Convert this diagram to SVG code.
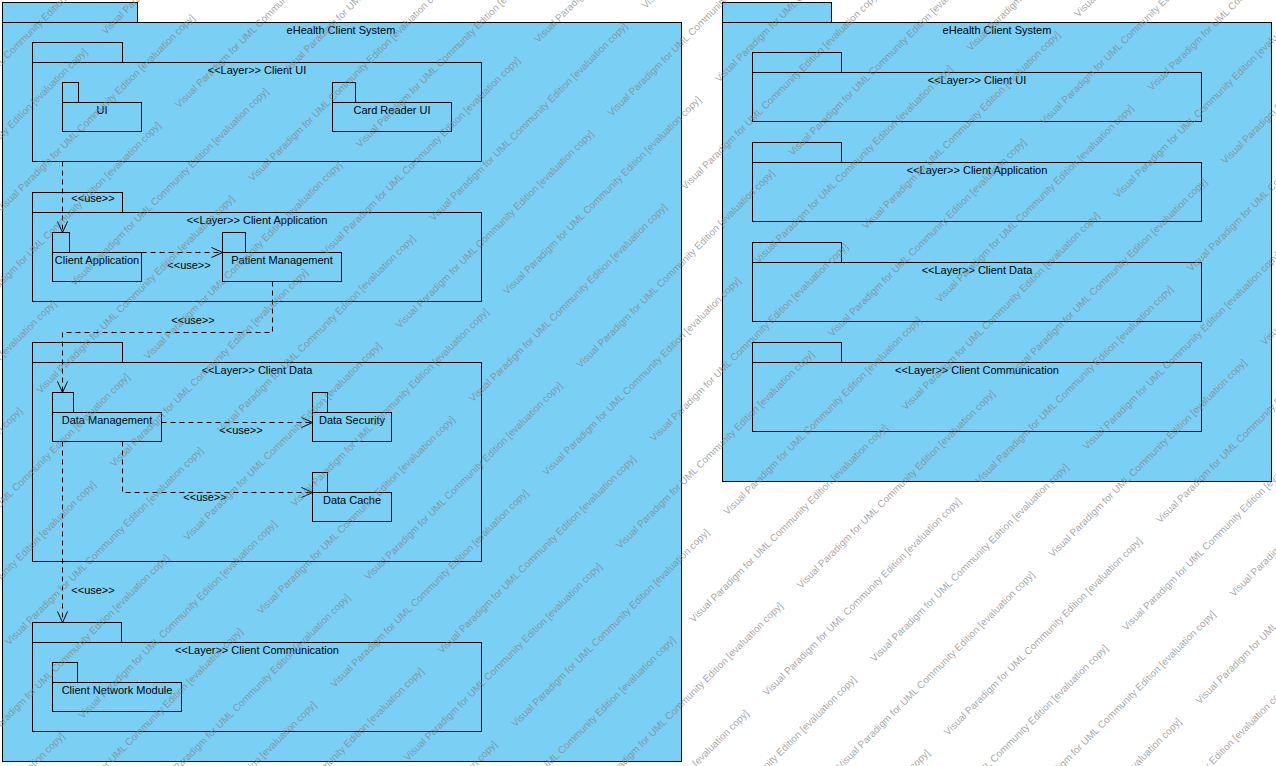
<svg xmlns="http://www.w3.org/2000/svg" width="1276" height="766" viewBox="0 0 1276 766">
<style>
.pkg{fill:#7ACFF5;stroke:#000;stroke-width:1}
.t{font-family:"Liberation Sans",Arial,sans-serif;font-size:11px;fill:#000;text-anchor:middle}
.lbl{font-family:"Liberation Sans",Arial,sans-serif;font-size:11px;fill:#000;text-anchor:middle}
.dep{fill:none;stroke:#000;stroke-width:1;stroke-dasharray:5,4;marker-end:url(#open)}
.wm{font-family:"Liberation Sans",Arial,sans-serif;font-size:10px;fill:#808080;fill-opacity:0.7}
</style>
<defs>
<marker id="open" viewBox="-12 -6 13 12" refX="0" refY="0" markerWidth="13" markerHeight="12" orient="auto" markerUnits="userSpaceOnUse">
<path d="M-11,-5 L0,0 L-11,5" fill="none" stroke="#000" stroke-width="1"/>
</marker>
</defs>
<rect width="1276" height="766" fill="#fff"/>

<g id="system-left">
<rect class="pkg" x="2.5" y="2.5" width="135" height="20"/>
<rect class="pkg" x="2.5" y="22.5" width="679" height="739"/>
<text class="t" x="341" y="34">eHealth Client System</text>
</g>

<g id="layer-client-ui">
<rect class="pkg" x="32.5" y="42.5" width="90" height="20"/>
<rect class="pkg" x="32.5" y="62.5" width="449" height="99"/>
<text class="t" x="257" y="74">&lt;&lt;Layer&gt;&gt; Client UI</text>
</g>
<g id="pkg-ui">
<rect class="pkg" x="62.5" y="82.5" width="16" height="20"/>
<rect class="pkg" x="62.5" y="102.5" width="79" height="29"/>
<text class="t" x="102" y="114">UI</text>
</g>
<g id="pkg-card-reader-ui">
<rect class="pkg" x="332.5" y="82.5" width="23" height="20"/>
<rect class="pkg" x="332.5" y="102.5" width="119" height="29"/>
<text class="t" x="392" y="114">Card Reader UI</text>
</g>

<g id="layer-client-application">
<rect class="pkg" x="32.5" y="192.5" width="90" height="20"/>
<rect class="pkg" x="32.5" y="212.5" width="449" height="89"/>
<text class="t" x="257" y="224">&lt;&lt;Layer&gt;&gt; Client Application</text>
</g>
<g id="pkg-client-application">
<rect class="pkg" x="52.5" y="232.5" width="17" height="20"/>
<rect class="pkg" x="52.5" y="252.5" width="89" height="29"/>
<text class="t" x="97" y="264">Client Application</text>
</g>
<g id="pkg-patient-management">
<rect class="pkg" x="222.5" y="232.5" width="23" height="20"/>
<rect class="pkg" x="222.5" y="252.5" width="119" height="29"/>
<text class="t" x="282" y="264">Patient Management</text>
</g>

<g id="layer-client-data">
<rect class="pkg" x="32.5" y="342.5" width="90" height="20"/>
<rect class="pkg" x="32.5" y="362.5" width="449" height="199"/>
<text class="t" x="257" y="374">&lt;&lt;Layer&gt;&gt; Client Data</text>
</g>
<g id="pkg-data-management">
<rect class="pkg" x="52.5" y="392.5" width="21" height="20"/>
<rect class="pkg" x="52.5" y="412.5" width="109" height="29"/>
<text class="t" x="107" y="424">Data Management</text>
</g>
<g id="pkg-data-security">
<rect class="pkg" x="312.5" y="392.5" width="15" height="20"/>
<rect class="pkg" x="312.5" y="412.5" width="79" height="29"/>
<text class="t" x="352" y="424">Data Security</text>
</g>
<g id="pkg-data-cache">
<rect class="pkg" x="312.5" y="472.5" width="15" height="20"/>
<rect class="pkg" x="312.5" y="492.5" width="79" height="29"/>
<text class="t" x="352" y="504">Data Cache</text>
</g>

<g id="layer-client-communication">
<rect class="pkg" x="32.5" y="622.5" width="89" height="20"/>
<rect class="pkg" x="32.5" y="642.5" width="449" height="89"/>
<text class="t" x="257" y="654">&lt;&lt;Layer&gt;&gt; Client Communication</text>
</g>
<g id="pkg-client-network-module">
<rect class="pkg" x="52.5" y="662.5" width="25" height="20"/>
<rect class="pkg" x="52.5" y="682.5" width="129" height="29"/>
<text class="t" x="117" y="694">Client Network Module</text>
</g>

<g id="connectors">
<path class="dep" d="M62.5,161.5 V232.5"/>
<text class="lbl" x="93" y="202">&lt;&lt;use&gt;&gt;</text>
<path class="dep" d="M141.5,252.5 H222.5"/>
<text class="lbl" x="189" y="269">&lt;&lt;use&gt;&gt;</text>
<path class="dep" d="M272.5,281.5 V332.5 H62.5 V392.5"/>
<text class="lbl" x="193" y="324">&lt;&lt;use&gt;&gt;</text>
<path class="dep" d="M161.5,422.5 H312.5"/>
<text class="lbl" x="241" y="434">&lt;&lt;use&gt;&gt;</text>
<path class="dep" d="M122.5,441.5 V492.5 H312.5"/>
<text class="lbl" x="205" y="501">&lt;&lt;use&gt;&gt;</text>
<path class="dep" d="M62.5,441.5 V622.5"/>
<text class="lbl" x="93" y="594">&lt;&lt;use&gt;&gt;</text>
</g>

<g id="system-right">
<rect class="pkg" x="722.5" y="2.5" width="109" height="20"/>
<rect class="pkg" x="722.5" y="22.5" width="549" height="459"/>
<text class="t" x="997" y="34">eHealth Client System</text>
</g>
<g id="r-layer-client-ui">
<rect class="pkg" x="752.5" y="52.5" width="89" height="20"/>
<rect class="pkg" x="752.5" y="72.5" width="449" height="49"/>
<text class="t" x="977" y="84">&lt;&lt;Layer&gt;&gt; Client UI</text>
</g>
<g id="r-layer-client-application">
<rect class="pkg" x="752.5" y="142.5" width="89" height="20"/>
<rect class="pkg" x="752.5" y="162.5" width="449" height="59"/>
<text class="t" x="977" y="174">&lt;&lt;Layer&gt;&gt; Client Application</text>
</g>
<g id="r-layer-client-data">
<rect class="pkg" x="752.5" y="242.5" width="89" height="20"/>
<rect class="pkg" x="752.5" y="262.5" width="449" height="59"/>
<text class="t" x="977" y="274">&lt;&lt;Layer&gt;&gt; Client Data</text>
</g>
<g id="r-layer-client-communication">
<rect class="pkg" x="752.5" y="342.5" width="89" height="20"/>
<rect class="pkg" x="752.5" y="362.5" width="449" height="69"/>
<text class="t" x="977" y="374">&lt;&lt;Layer&gt;&gt; Client Communication</text>
</g>

<g id="watermark" class="wm" transform="rotate(-45)">
<text x="-150" y="47.4">Visual Paradigm for UML Community Edition [evaluation copy]</text>
<text x="-250" y="99.4">Visual Paradigm for UML Community Edition [evaluation copy]</text>
<text x="50" y="99.4">Visual Paradigm for UML Community Edition [evaluation copy]</text>
<text x="-150" y="151.3">Visual Paradigm for UML Community Edition [evaluation copy]</text>
<text x="150" y="151.3">Visual Paradigm for UML Community Edition [evaluation copy]</text>
<text x="-250" y="203.3">Visual Paradigm for UML Community Edition [evaluation copy]</text>
<text x="50" y="203.3">Visual Paradigm for UML Community Edition [evaluation copy]</text>
<text x="-450" y="255.3">Visual Paradigm for UML Community Edition [evaluation copy]</text>
<text x="-150" y="255.3">Visual Paradigm for UML Community Edition [evaluation copy]</text>
<text x="150" y="255.3">Visual Paradigm for UML Community Edition [evaluation copy]</text>
<text x="-550" y="307.2">Visual Paradigm for UML Community Edition [evaluation copy]</text>
<text x="-250" y="307.2">Visual Paradigm for UML Community Edition [evaluation copy]</text>
<text x="50" y="307.2">Visual Paradigm for UML Community Edition [evaluation copy]</text>
<text x="-450" y="359.2">Visual Paradigm for UML Community Edition [evaluation copy]</text>
<text x="-150" y="359.2">Visual Paradigm for UML Community Edition [evaluation copy]</text>
<text x="150" y="359.2">Visual Paradigm for UML Community Edition [evaluation copy]</text>
<text x="-550" y="411.2">Visual Paradigm for UML Community Edition [evaluation copy]</text>
<text x="-250" y="411.2">Visual Paradigm for UML Community Edition [evaluation copy]</text>
<text x="50" y="411.2">Visual Paradigm for UML Community Edition [evaluation copy]</text>
<text x="350" y="411.2">Visual Paradigm for UML Community Edition [evaluation copy]</text>
<text x="-450" y="463.1">Visual Paradigm for UML Community Edition [evaluation copy]</text>
<text x="-150" y="463.1">Visual Paradigm for UML Community Edition [evaluation copy]</text>
<text x="150" y="463.1">Visual Paradigm for UML Community Edition [evaluation copy]</text>
<text x="450" y="463.1">Visual Paradigm for UML Community Edition [evaluation copy]</text>
<text x="-550" y="515.1">Visual Paradigm for UML Community Edition [evaluation copy]</text>
<text x="-250" y="515.1">Visual Paradigm for UML Community Edition [evaluation copy]</text>
<text x="50" y="515.1">Visual Paradigm for UML Community Edition [evaluation copy]</text>
<text x="350" y="515.1">Visual Paradigm for UML Community Edition [evaluation copy]</text>
<text x="-750" y="567.1">Visual Paradigm for UML Community Edition [evaluation copy]</text>
<text x="-450" y="567.1">Visual Paradigm for UML Community Edition [evaluation copy]</text>
<text x="-150" y="567.1">Visual Paradigm for UML Community Edition [evaluation copy]</text>
<text x="150" y="567.1">Visual Paradigm for UML Community Edition [evaluation copy]</text>
<text x="450" y="567.1">Visual Paradigm for UML Community Edition [evaluation copy]</text>
<text x="-550" y="619.1">Visual Paradigm for UML Community Edition [evaluation copy]</text>
<text x="-250" y="619.1">Visual Paradigm for UML Community Edition [evaluation copy]</text>
<text x="50" y="619.1">Visual Paradigm for UML Community Edition [evaluation copy]</text>
<text x="350" y="619.1">Visual Paradigm for UML Community Edition [evaluation copy]</text>
<text x="-450" y="671">Visual Paradigm for UML Community Edition [evaluation copy]</text>
<text x="-150" y="671">Visual Paradigm for UML Community Edition [evaluation copy]</text>
<text x="150" y="671">Visual Paradigm for UML Community Edition [evaluation copy]</text>
<text x="450" y="671">Visual Paradigm for UML Community Edition [evaluation copy]</text>
<text x="-550" y="723">Visual Paradigm for UML Community Edition [evaluation copy]</text>
<text x="-250" y="723">Visual Paradigm for UML Community Edition [evaluation copy]</text>
<text x="50" y="723">Visual Paradigm for UML Community Edition [evaluation copy]</text>
<text x="350" y="723">Visual Paradigm for UML Community Edition [evaluation copy]</text>
<text x="650" y="723">Visual Paradigm for UML Community Edition [evaluation copy]</text>
<text x="-450" y="775">Visual Paradigm for UML Community Edition [evaluation copy]</text>
<text x="-150" y="775">Visual Paradigm for UML Community Edition [evaluation copy]</text>
<text x="150" y="775">Visual Paradigm for UML Community Edition [evaluation copy]</text>
<text x="450" y="775">Visual Paradigm for UML Community Edition [evaluation copy]</text>
<text x="750" y="775">Visual Paradigm for UML Community Edition [evaluation copy]</text>
<text x="-250" y="826.9">Visual Paradigm for UML Community Edition [evaluation copy]</text>
<text x="50" y="826.9">Visual Paradigm for UML Community Edition [evaluation copy]</text>
<text x="350" y="826.9">Visual Paradigm for UML Community Edition [evaluation copy]</text>
<text x="650" y="826.9">Visual Paradigm for UML Community Edition [evaluation copy]</text>
<text x="-450" y="878.9">Visual Paradigm for UML Community Edition [evaluation copy]</text>
<text x="-150" y="878.9">Visual Paradigm for UML Community Edition [evaluation copy]</text>
<text x="150" y="878.9">Visual Paradigm for UML Community Edition [evaluation copy]</text>
<text x="450" y="878.9">Visual Paradigm for UML Community Edition [evaluation copy]</text>
<text x="750" y="878.9">Visual Paradigm for UML Community Edition [evaluation copy]</text>
<text x="-250" y="930.9">Visual Paradigm for UML Community Edition [evaluation copy]</text>
<text x="50" y="930.9">Visual Paradigm for UML Community Edition [evaluation copy]</text>
<text x="350" y="930.9">Visual Paradigm for UML Community Edition [evaluation copy]</text>
<text x="650" y="930.9">Visual Paradigm for UML Community Edition [evaluation copy]</text>
<text x="-150" y="982.8">Visual Paradigm for UML Community Edition [evaluation copy]</text>
<text x="150" y="982.8">Visual Paradigm for UML Community Edition [evaluation copy]</text>
<text x="450" y="982.8">Visual Paradigm for UML Community Edition [evaluation copy]</text>
<text x="750" y="982.8">Visual Paradigm for UML Community Edition [evaluation copy]</text>
<text x="-250" y="1034.8">Visual Paradigm for UML Community Edition [evaluation copy]</text>
<text x="50" y="1034.8">Visual Paradigm for UML Community Edition [evaluation copy]</text>
<text x="350" y="1034.8">Visual Paradigm for UML Community Edition [evaluation copy]</text>
<text x="650" y="1034.8">Visual Paradigm for UML Community Edition [evaluation copy]</text>
<text x="-150" y="1086.8">Visual Paradigm for UML Community Edition [evaluation copy]</text>
<text x="150" y="1086.8">Visual Paradigm for UML Community Edition [evaluation copy]</text>
<text x="450" y="1086.8">Visual Paradigm for UML Community Edition [evaluation copy]</text>
<text x="50" y="1138.8">Visual Paradigm for UML Community Edition [evaluation copy]</text>
<text x="350" y="1138.8">Visual Paradigm for UML Community Edition [evaluation copy]</text>
<text x="650" y="1138.8">Visual Paradigm for UML Community Edition [evaluation copy]</text>
<text x="-150" y="1190.7">Visual Paradigm for UML Community Edition [evaluation copy]</text>
<text x="150" y="1190.7">Visual Paradigm for UML Community Edition [evaluation copy]</text>
<text x="450" y="1190.7">Visual Paradigm for UML Community Edition [evaluation copy]</text>
<text x="50" y="1242.7">Visual Paradigm for UML Community Edition [evaluation copy]</text>
<text x="350" y="1242.7">Visual Paradigm for UML Community Edition [evaluation copy]</text>
<text x="150" y="1294.7">Visual Paradigm for UML Community Edition [evaluation copy]</text>
<text x="450" y="1294.7">Visual Paradigm for UML Community Edition [evaluation copy]</text>
<text x="50" y="1346.6">Visual Paradigm for UML Community Edition [evaluation copy]</text>
<text x="350" y="1346.6">Visual Paradigm for UML Community Edition [evaluation copy]</text>
<text x="150" y="1398.6">Visual Paradigm for UML Community Edition [evaluation copy]</text>
</g>
</svg>
